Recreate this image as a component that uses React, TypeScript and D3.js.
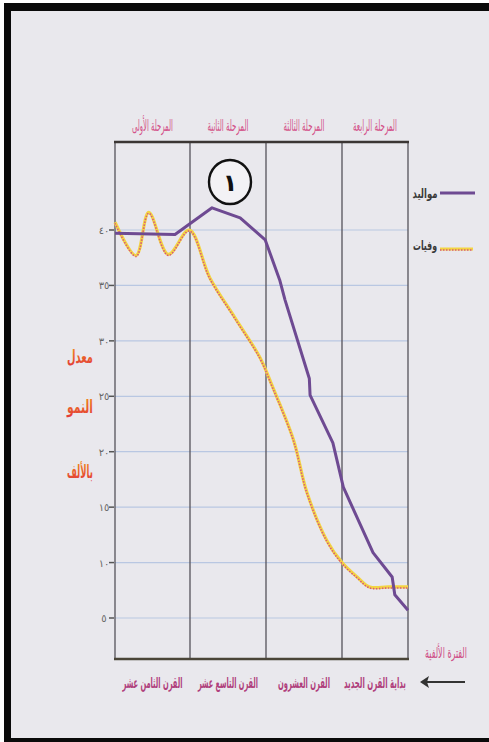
import React, { useEffect, useRef } from 'react';
import * as d3 from 'd3';

// x runs over the four periods: 0..4 (period boundaries)
const periodBounds = [0, 1, 2, 3, 4];
const topLabels = ['المرحلة الأولى', 'المرحلة الثانية', 'المرحلة الثالثة', 'المرحلة الرابعة'];
const bottomLabels = ['القرن الثامن عشر', 'القرن التاسع عشر', 'القرن العشرون', 'بداية القرن الجديد'];
const yTicks = [5, 10, 15, 20, 25, 30, 35, 40];
const yTickLabels = ['٥', '١٠', '١٥', '٢٠', '٢٥', '٣٠', '٣٥', '٤٠'];
const yTitle = ['معدل', 'النمو', 'بالألف'];

const birthsX = [0, 0.8, 1.29, 1.66, 1.99, 2.18, 2.25, 2.57, 2.58, 2.88, 3.02, 3.47, 3.76, 3.8, 4.0];
const birthsY = [39.7, 39.6, 42.0, 41.1, 39.1, 35.5, 33.7, 26.6, 25.1, 20.8, 16.8, 10.9, 8.7, 7.1, 5.7];

const deathsX = [0, 0.28, 0.45, 0.71, 0.99, 1.26, 1.59, 1.92, 2.09, 2.36, 2.54, 2.8, 3.0, 3.23, 3.42, 3.7, 4.0];
const deathsY = [40.7, 37.7, 41.6, 37.8, 40.0, 35.7, 32.1, 28.5, 25.8, 21.1, 16.3, 12.0, 10.0, 8.7, 7.8, 7.8, 7.8];

const W = 489;
const H = 742;

const App: React.FC = () => {
  const svgRef = useRef<SVGSVGElement>(null);

  useEffect(() => {
    if (!svgRef.current) return;
    const svg = d3.select(svgRef.current);
    svg.selectAll('*').remove();

    const arabic = "'DejaVu Sans', 'Noto Sans', sans-serif";

    // condensed arabic text: squeeze horizontally to the measured width
    const fitText = (txt: string, cx: number, cy: number, width: number, size: number,
                     fill: string, weight = 'normal', anchor = 'middle') => {
      const t = svg.append('text')
        .attr('text-anchor', anchor)
        .attr('font-family', arabic).attr('font-size', size).attr('font-weight', weight)
        .attr('fill', fill).text(txt);
      const natural = (t.node() as SVGTextElement).getComputedTextLength() || width;
      t.attr('transform', `translate(${cx},${cy}) scale(${width / natural},1)`);
      return t;
    };

    // page + scanned border
    svg.append('rect').attr('width', W).attr('height', H).attr('fill', '#ffffff');
    svg.append('rect').attr('x', 4).attr('y', 3).attr('width', W - 4).attr('height', H - 3).attr('fill', '#0a0a0a');
    svg.append('rect').attr('x', 11).attr('y', 11).attr('width', W - 11).attr('height', 727).attr('fill', '#e9e8ed');

    const x = d3.scaleLinear().domain(periodBounds).range([115, 190, 266, 342, 408]);
    const y = d3.scaleLinear().domain([5, 40]).range([618, 230]);
    const top = 142;
    const bottom = 659;

    // horizontal grid
    svg.append('g').selectAll('line').data(yTicks).join('line')
      .attr('x1', x(0)).attr('x2', x(4))
      .attr('y1', d => y(d)).attr('y2', d => y(d))
      .attr('stroke', '#b9c7e2').attr('stroke-width', 1.2);

    // tick marks + labels
    svg.append('g').selectAll('line').data(yTicks).join('line')
      .attr('x1', x(0) - 6).attr('x2', x(0) - 1)
      .attr('y1', d => y(d)).attr('y2', d => y(d))
      .attr('stroke', '#555').attr('stroke-width', 1.5);
    svg.append('g').selectAll('text').data(yTicks).join('text')
      .attr('x', x(0) - 11).attr('y', d => y(d) + 4)
      .attr('text-anchor', 'middle')
      .attr('font-family', arabic).attr('font-size', 10)
      .attr('fill', '#666')
      .text((d, i) => yTickLabels[i]);

    // vertical period lines
    svg.append('g').selectAll('line').data(periodBounds).join('line')
      .attr('x1', d => x(d)).attr('x2', d => x(d))
      .attr('y1', top).attr('y2', bottom)
      .attr('stroke', '#55525a').attr('stroke-width', 1.3);
    svg.append('line').attr('x1', x(0) - 1).attr('x2', x(4) + 1).attr('y1', top).attr('y2', top)
      .attr('stroke', '#3b3634').attr('stroke-width', 2.5);
    svg.append('line').attr('x1', x(0) - 1).attr('x2', x(4) + 1).attr('y1', bottom).attr('y2', bottom)
      .attr('stroke', '#4a4538').attr('stroke-width', 2.5);

    // period labels
    const mids = [0.5, 1.5, 2.5, 3.5];
    mids.forEach((m, i) => fitText(topLabels[i], x(m), 131, i === 3 ? 44 : 41, 16, '#d4538a'));
    const botW = [60, 60, 52, 62];
    mids.forEach((m, i) => fitText(bottomLabels[i], x(m), 688, botW[i], 15, '#b0407c', 'bold'));

    // y title
    const grad = svg.append('defs').append('linearGradient')
      .attr('id', 'ytitle').attr('x1', 0).attr('x2', 0).attr('y1', 0).attr('y2', 1);
    grad.append('stop').attr('offset', '0%').attr('stop-color', '#f28c1a');
    grad.append('stop').attr('offset', '100%').attr('stop-color', '#e2383a');
    const titleY = [363, 413, 478];
    yTitle.forEach((t, i) => fitText(t, 80, titleY[i], 26, 18, 'url(#ytitle)', 'bold'));

    // axis name + arrow
    fitText('الفترة الألفية', 446, 658, 42, 15, '#cf4d86');
    svg.append('line').attr('x1', 426).attr('x2', 465).attr('y1', 682).attr('y2', 682)
      .attr('stroke', '#333').attr('stroke-width', 2);
    svg.append('path').attr('d', 'M420,682 L429,676 L427,682 L429,688 Z').attr('fill', '#333');

    // series
    const births = birthsX.map((v, i) => [v, birthsY[i]] as [number, number]);
    const deaths = deathsX.map((v, i) => [v, deathsY[i]] as [number, number]);

    const lineB = d3.line<[number, number]>().x(d => x(d[0])).y(d => y(d[1]));
    const lineD = d3.line<[number, number]>().x(d => x(d[0])).y(d => y(d[1]))
      .curve(d3.curveCatmullRom.alpha(0.5));

    svg.append('path').attr('d', lineD(deaths) || '')
      .attr('fill', 'none').attr('stroke', '#f3d443').attr('stroke-width', 3.2);
    svg.append('path').attr('d', lineD(deaths) || '')
      .attr('transform', 'translate(0,1)')
      .attr('fill', 'none').attr('stroke', '#d65a7c').attr('stroke-width', 1.6)
      .attr('stroke-dasharray', '1.5,1.5');

    svg.append('path').attr('d', lineB(births) || '')
      .attr('fill', 'none').attr('stroke', '#6e4a92').attr('stroke-width', 3)
      .attr('stroke-linejoin', 'round');

    // legend
    svg.append('line').attr('x1', 440).attr('x2', 475).attr('y1', 193).attr('y2', 193)
      .attr('stroke', '#6e4a92').attr('stroke-width', 3);
    fitText('مواليد', 425, 198, 25, 13, '#3a3a3a', 'bold');
    svg.append('line').attr('x1', 440).attr('x2', 473).attr('y1', 249).attr('y2', 249)
      .attr('stroke', '#f3d443').attr('stroke-width', 3);
    svg.append('line').attr('x1', 440).attr('x2', 473).attr('y1', 250).attr('y2', 250)
      .attr('stroke', '#d65a7c').attr('stroke-width', 1.6).attr('stroke-dasharray', '1.5,1.5');
    fitText('وفيات', 425, 250, 24, 13, '#3a3a3a', 'bold');

    // annotation circle
    svg.append('ellipse').attr('cx', 230).attr('cy', 182).attr('rx', 21).attr('ry', 22)
      .attr('fill', '#f3f2f5').attr('stroke', '#111').attr('stroke-width', 2.4);
    svg.append('text').attr('x', 230).attr('y', 191).attr('text-anchor', 'middle')
      .attr('font-family', arabic).attr('font-size', 24).attr('font-weight', 'bold')
      .attr('fill', '#111').text('١');
  }, []);

  return (
    <div style={{ position: 'absolute', left: 0, top: 0, width: W, height: H }}>
      <svg ref={svgRef} width={W} height={H} style={{ display: 'block' }} />
    </div>
  );
};

export default App;
